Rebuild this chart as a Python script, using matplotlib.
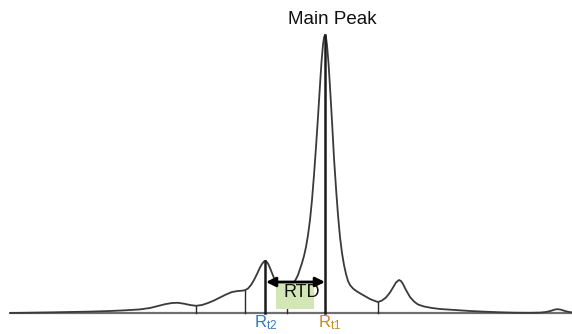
import numpy as np
import matplotlib
matplotlib.use("Agg")
import matplotlib.pyplot as plt

plt.rcParams['font.family'] = ['Liberation Sans', 'DejaVu Sans']
plt.rcParams['mathtext.fontset'] = 'custom'
plt.rcParams['mathtext.rm'] = 'Liberation Sans'
plt.rcParams['mathtext.it'] = 'Liberation Sans'

# Chromatogram trace: retention time (arbitrary units) and signal
time = [10, 30, 50, 70, 90, 110, 125, 140, 150, 158, 165, 172, 178, 184, 190, 196,
        202, 208, 214, 220, 226, 232, 238, 242, 245, 248, 251, 254, 257, 260, 262,
        264, 265, 266, 268, 270, 272, 274, 276, 279, 282, 285, 287, 290, 293, 296,
        298, 300, 302, 304, 306, 308, 310, 312, 314, 316, 318, 320, 321.5, 323, 324,
        325, 326, 327, 328.5, 330, 332, 334, 336, 338, 340, 342, 344, 346, 348, 350,
        353, 357, 363, 370, 375, 378, 382, 386, 390, 393, 396, 399, 401, 403, 406,
        410, 414, 418, 424, 432, 440, 455, 470, 485, 500, 515, 530, 540, 546, 551,
        555, 558, 561, 565, 569, 572]
signal = [0, 0.3, 0.6, 1, 1.4, 2, 2.7, 3.6, 5, 7, 8.8, 10, 10.2, 9.3, 8, 7.2,
          8, 10, 12.5, 15.5, 18.5, 21, 22, 22.3, 22.8, 24.5, 28, 33, 39, 45.5, 49,
          51.5, 52, 51.8, 49.5, 45, 40, 35, 31, 27, 25, 24, 24, 25.5, 29, 34,
          38, 44, 50, 57, 66, 78, 93, 113, 138, 166, 196, 228, 251, 268.5, 275.5,
          278, 275.5, 268, 250, 226, 192, 155, 125, 98, 76, 60, 48, 39, 32, 28,
          24.5, 21.5, 18, 14, 12, 11, 12.5, 15.5, 20.5, 25.5, 30.5, 33, 32, 29, 23,
          16, 11.5, 8.5, 6.5, 5, 4, 3, 2, 1.3, 0.7, 0.3, 0.2, 0.4, 1, 2.2,
          3.5, 3.8, 3.3, 2, 1, 0.6]

# Peak boundary / apex markers
boundaries = [196, 245, 287, 378]
rt2 = 265
rt1 = 325
main_label = "Main Peak"
rtd_label = "RTD"

fig = plt.figure(figsize=(5.72, 3.34), dpi=100)
ax = fig.add_axes([0, 0, 1, 1])
ax.set_xlim(0, 572)
ax.set_ylim(-21, 313)
ax.axis('off')

t = np.array(time)
s = np.array(signal)

# baseline
ax.plot([t[0], t[-1]], [0, 0], color='#6f6f6f', lw=1.6, zorder=1, solid_capstyle='butt')
# trace
ax.plot(t, s, color='#3a3a3a', lw=1.3, zorder=3, solid_joinstyle='round')

# boundary lines
for b in boundaries:
    ax.plot([b, b], [0, np.interp(b, t, s)], color='#2a2a2a', lw=1.0, zorder=2)
# retention-time lines
for r in (rt2, rt1):
    ax.plot([r, r], [0, np.interp(r, t, s)], color='#1a1a1a', lw=1.8, zorder=4)

# RTD box
ax.add_patch(plt.Rectangle((276, 4), 38, 26, facecolor='#d3e6b5', edgecolor='none', zorder=5))
ax.text(301.5, 20.5, rtd_label, fontsize=13, ha='center', va='center', color='#111111', zorder=7)
ax.annotate('', xy=(rt2 + 1, 31), xytext=(rt1, 31),
            arrowprops=dict(arrowstyle='<|-|>', color='black', lw=2,
                            mutation_scale=14, shrinkA=0, shrinkB=0), zorder=8)

ax.text(332, 294, main_label, fontsize=13.5, ha='center', va='center', color='#111111')

ax.text(rt2 + 1, -19.5, r'$\mathrm{R_{t2}}$', fontsize=12, ha='center', va='bottom', color='#2f7bbf')
ax.text(rt1 + 5, -19.5, r'$\mathrm{R_{t1}}$', fontsize=12, ha='center', va='bottom', color='#c48d1c')

fig.savefig('out.png', dpi=100)
